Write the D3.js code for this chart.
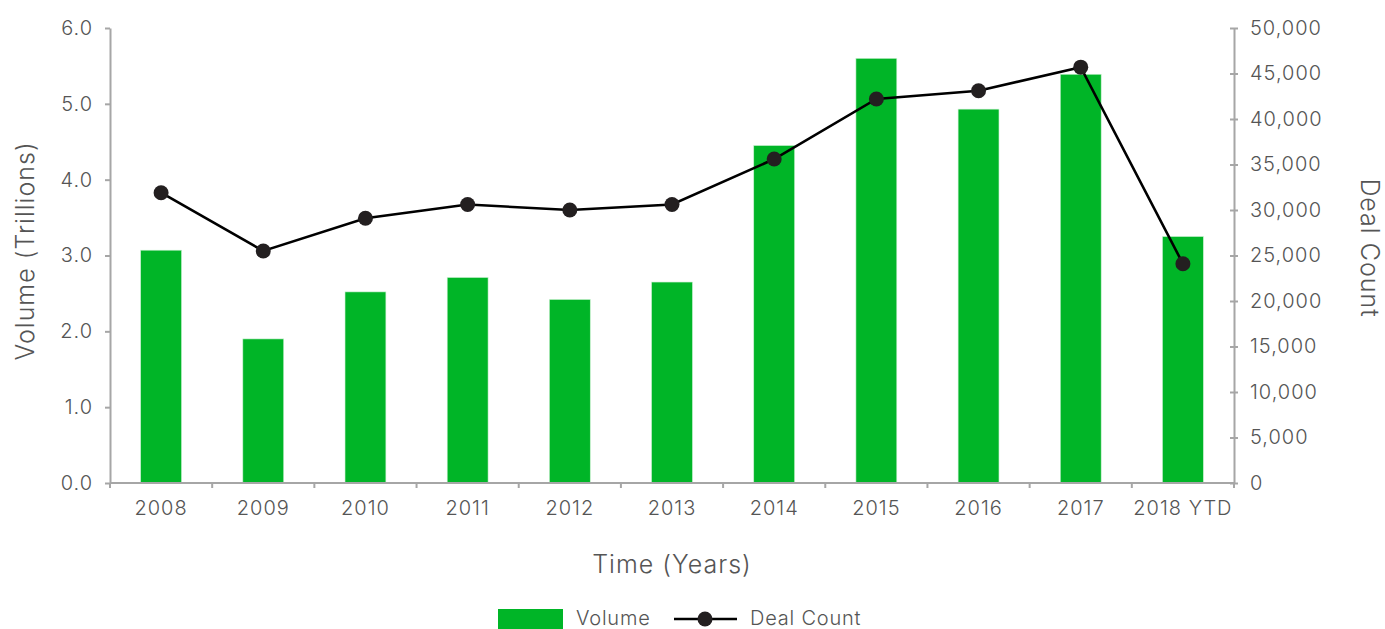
<!DOCTYPE html>
<html><head><meta charset="utf-8">
<script src="https://cdn.jsdelivr.net/npm/d3@7"></script>
<style>
body{margin:0;background:#fff;}
text{font-family:"Inter","Open Sans",sans-serif;font-weight:300;fill:#555;}
</style></head>
<body><svg id="c" width="1385" height="629"></svg>
<script>
const categories = ["2008","2009","2010","2011","2012","2013","2014","2015","2016","2017","2018 YTD"];
const volume = [3.07, 1.90, 2.52, 2.71, 2.42, 2.65, 4.45, 5.60, 4.93, 5.39, 3.25];
const dealCount = [31900, 25500, 29100, 30600, 30000, 30600, 35600, 42200, 43100, 45700, 24100];
const leftTicks = [0,1,2,3,4,5,6];
const rightTicks = [0,5000,10000,15000,20000,25000,30000,35000,40000,45000,50000];

const FONT = "Inter, 'Open Sans', sans-serif";
const svg = d3.select("#c");
const L = 110, R = 1234, T = 28, B = 483;
const axisColor = "#a6a6a6";
const x = d3.scaleBand().domain(categories).range([L, R]).padding(0);
const yL = d3.scaleLinear().domain([0, 6]).range([B, T]);
const yR = d3.scaleLinear().domain([0, 50000]).range([B, T]);
const barW = x.bandwidth() * 0.4;

// bars
svg.append("g").selectAll("rect").data(categories).join("rect")
  .attr("x", d => x(d) + x.bandwidth()/2 - barW/2)
  .attr("width", barW)
  .attr("y", (d,i) => yL(volume[i]))
  .attr("height", (d,i) => B - yL(volume[i]))
  .attr("fill", "#00b527")
  .attr("stroke", "#c9f0d0").attr("stroke-width", 0.6);

function styleAxis(g, size){
  g.selectAll("path,line").attr("stroke", axisColor).attr("stroke-width", 2);
  g.selectAll("text").attr("fill", "#555").style("font-size", size + "px")
    .style("font-family", FONT).style("font-weight", 300).style("letter-spacing", "1px");
}
const gl = svg.append("g").attr("transform", `translate(${L},0)`)
  .call(d3.axisLeft(yL).tickValues(leftTicks).tickFormat(d3.format(".1f")).tickSize(5).tickSizeOuter(0).tickPadding(12));
styleAxis(gl, 20);

const gr = svg.append("g").attr("transform", `translate(${R},0)`)
  .call(d3.axisRight(yR).tickValues(rightTicks).tickFormat(d3.format(",")).tickSize(4).tickSizeOuter(0).tickPadding(12));
styleAxis(gr, 20);
gr.selectAll(".tick line").attr("x1", -4);

const gx = svg.append("g").attr("transform", `translate(0,${B})`)
  .call(d3.axisBottom(x).tickSize(0).tickSizeOuter(0).tickPadding(18));
styleAxis(gx, 20);
gx.select(".domain").attr("d", `M${L},0H${R}`);
gx.selectAll(".bt").data(d3.range(categories.length + 1)).join("line")
  .attr("class","bt")
  .attr("x1", i => L + i * x.step()).attr("x2", i => L + i * x.step())
  .attr("y1", 0).attr("y2", 5).attr("stroke", axisColor).attr("stroke-width", 2);

// line
const line = d3.line().x((d,i) => x(categories[i]) + x.bandwidth()/2).y(d => yR(d));
svg.append("path").datum(dealCount).attr("d", line)
  .attr("fill", "none").attr("stroke", "#000").attr("stroke-width", 2.6);
svg.append("g").selectAll("circle").data(dealCount).join("circle")
  .attr("cx", (d,i) => x(categories[i]) + x.bandwidth()/2)
  .attr("cy", d => yR(d)).attr("r", 7.5).attr("fill", "#231f20");

// titles
const titleStyle = s => s.style("font-size","25px").style("letter-spacing","1px");
svg.append("text").attr("transform", `translate(34,251) rotate(-90)`)
  .attr("text-anchor","middle").call(titleStyle).text("Volume (Trillions)");
svg.append("text").attr("transform", `translate(1361,248) rotate(90)`)
  .attr("text-anchor","middle").call(titleStyle).text("Deal Count");
svg.append("text").attr("x", 672).attr("y", 573)
  .attr("text-anchor","middle").call(titleStyle).text("Time (Years)");

// legend
const lg = svg.append("g");
lg.append("rect").attr("x", 498).attr("y", 609).attr("width", 65).attr("height", 20).attr("fill", "#00b527");
lg.append("text").attr("x", 576).attr("y", 625).style("font-size","20px").style("letter-spacing","0.8px").text("Volume");
lg.append("line").attr("x1", 674).attr("x2", 737).attr("y1", 619).attr("y2", 619).attr("stroke","#000").attr("stroke-width",2.6);
lg.append("circle").attr("cx", 705).attr("cy", 619).attr("r", 7.5).attr("fill","#231f20");
lg.append("text").attr("x", 750).attr("y", 625).style("font-size","20px").style("letter-spacing","0.8px").text("Deal Count");
</script></body></html>
